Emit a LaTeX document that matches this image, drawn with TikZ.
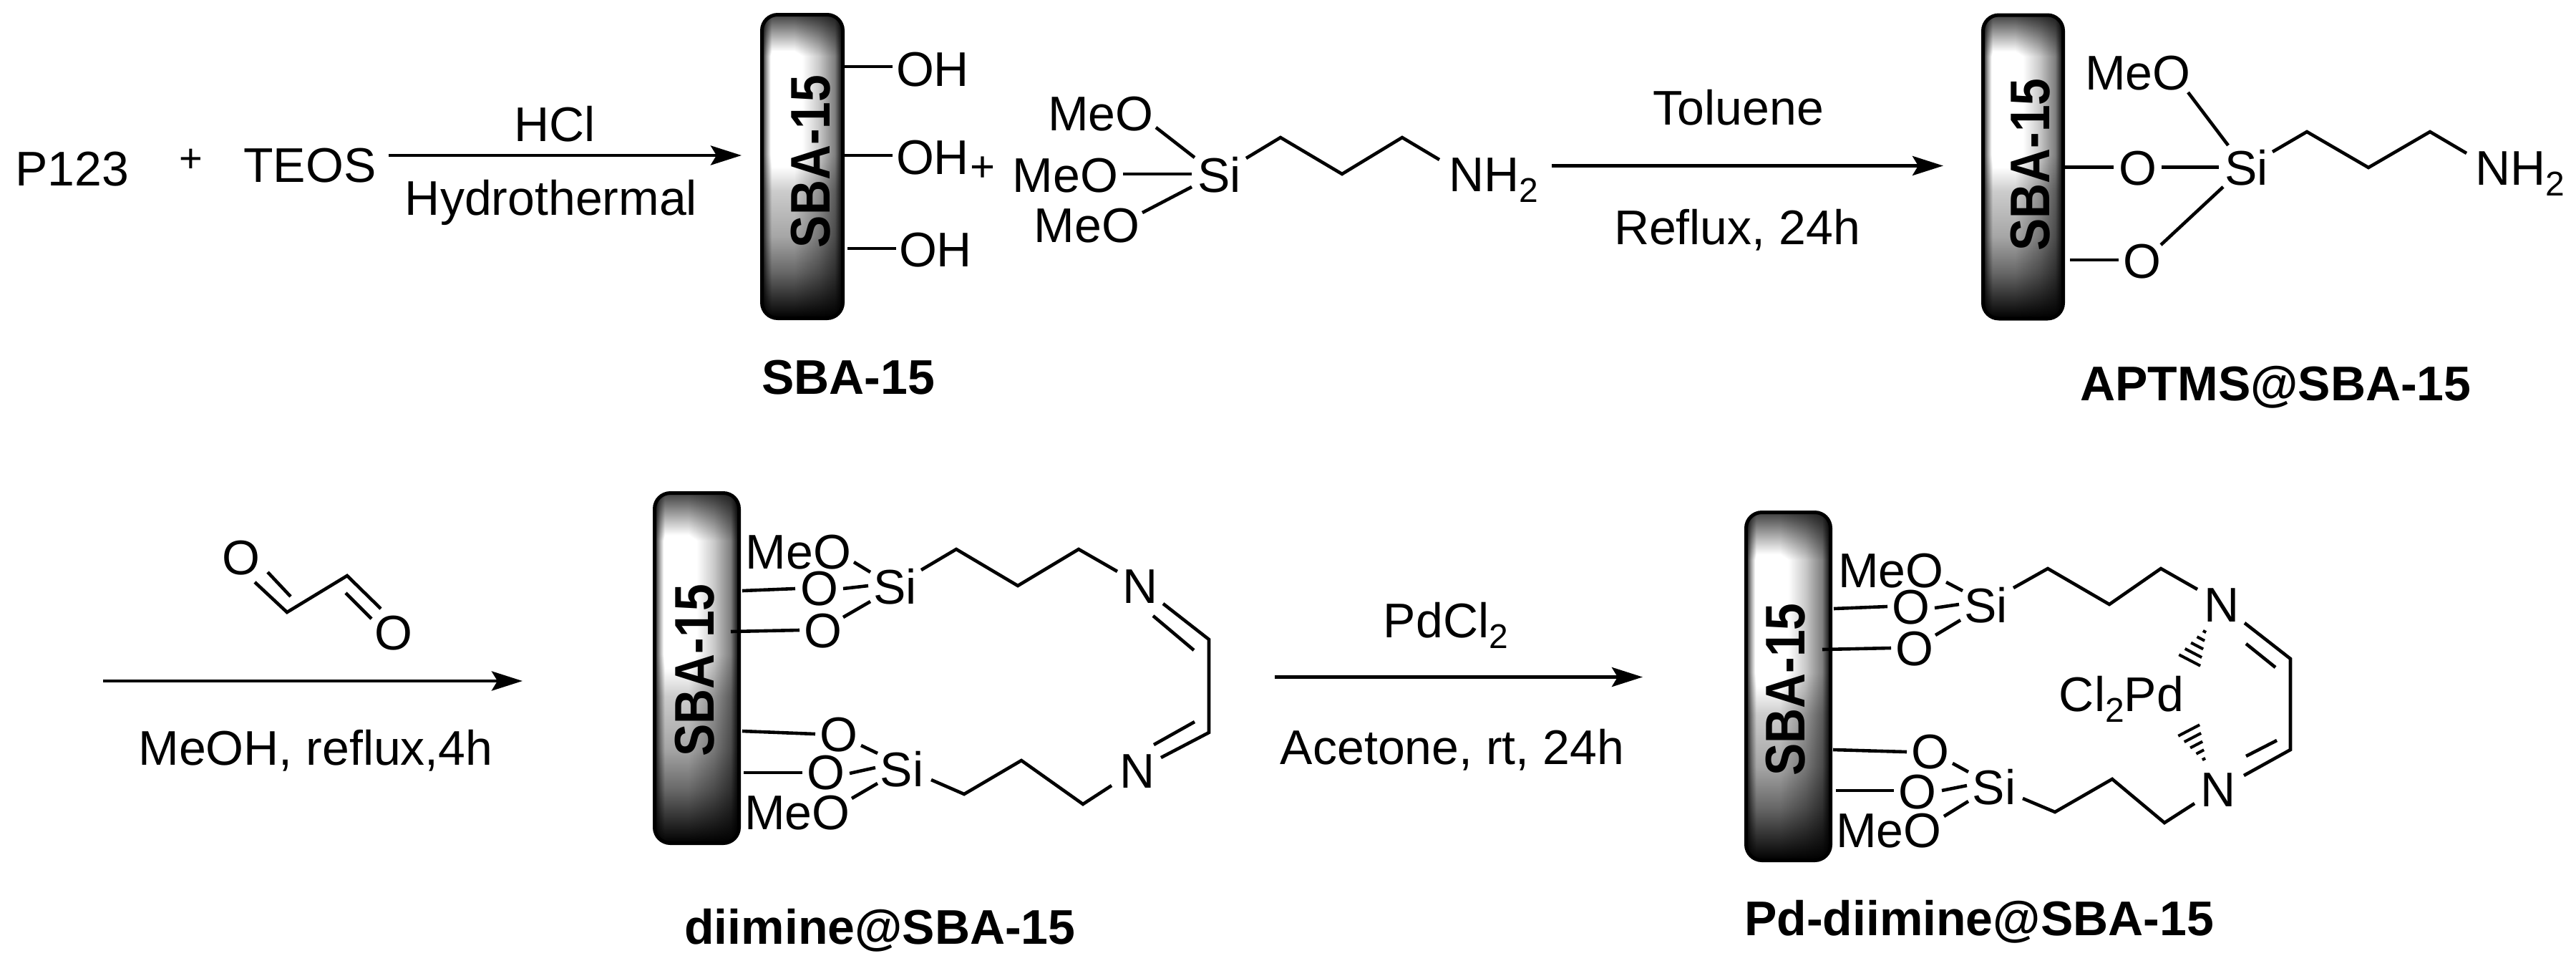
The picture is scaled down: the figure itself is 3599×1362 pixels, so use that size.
\documentclass[tikz,border=0pt]{standalone}
\usepackage{fontspec}
\setmainfont{Liberation Sans}
\usetikzlibrary{arrows.meta,calc}
\pgfdeclarefunctionalshading{barshade}{\pgfpointorigin}{\pgfpoint{100bp}{100bp}}{}{
  25 sub 50 div exch 25 sub 50 div exch
  1 exch sub
  dup 0.136 lt { 6.25 mul 0.25 add } { dup 0.46 lt { pop 1.1 } { dup 0.58 lt { 0.46 sub 2.5 mul neg 1.1 add } { dup 0.73 lt { 0.58 sub neg 0.8 add } { dup 0.85 lt { 0.73 sub 2.083 mul neg 0.65 add } { 1 exch sub 2.667 mul } ifelse } ifelse } ifelse } ifelse } ifelse
  exch
  dup 0.06 lt { 8.33 mul 0.1 add } { dup 0.12 lt { 0.06 sub 6.67 mul 0.6 add } { dup 0.4 lt { pop 1 } { dup 0.7 lt { 0.4 sub 0.933 mul neg 1 add } { dup 0.9 lt { 0.7 sub 1.35 mul neg 0.72 add } { 1 exch sub 4.5 mul } ifelse } ifelse } ifelse } ifelse } ifelse
  mul
  dup dup
}
\newcommand{\sbt}[1]{\raisebox{-7.5pt}{\fontsize{24}{24}\selectfont #1}}
\newcommand{\bd}[1]{\draw[bond] #1;}
\tikzset{
  x=0.5pt,y=-0.5pt,
  every node/.style={inner sep=0pt,outer sep=0pt},
  txt/.style={anchor=base,font=\fontsize{34}{40}\selectfont},
  blab/.style={anchor=base,font=\fontsize{34}{40}\selectfont\bfseries},
  plus/.style={anchor=center,font=\fontsize{28}{30}\selectfont},
  barbox/.style={rectangle,rounded corners=11pt,draw=black,line width=2.5pt,shading=barshade,minimum width=#1},
  bartext/.style={rotate=90,anchor=center,font=\fontsize{39}{44}\selectfont\bfseries},
  bond/.style={line width=2.3pt,line join=miter,black},
  rxn/.style={line width=2.4pt,black,-{Stealth[length=21.5pt,width=13.5pt,inset=4pt]}},
  hash/.style={line width=2pt,black},
}
\newcommand{\hashbond}[2]{%
  \foreach \t/\h in {0/1.2,0.2/3,0.4/4.8,0.6/6.6,0.8/8.4,1/10.2}{
    \draw[hash] ($(#1)!\t!(#2)!\h pt!90:(#2)$) -- ($(#1)!\t!(#2)!\h pt!-90:(#2)$);
  }}
\begin{document}
\begin{tikzpicture}
\useasboundingbox[fill=white] (0,0) rectangle (3599,1362);

% ---------- bars
\node[barbox=56.5pt,minimum height=212pt] (bar1) at (1121,232.5) {};
\node[barbox=56pt,minimum height=212pt] (bar2) at (2826.5,233) {};
\node[barbox=59pt,minimum height=244.5pt] (bar3) at (973.5,933) {};
\node[barbox=59pt,minimum height=243pt] (bar4) at (2498.5,958.5) {};
\node[bartext] (bt1) at (1132.5,225.5) {\scalebox{.87}[1]{SBA-15}};
\node[bartext] (bt2) at (2837,230) {\scalebox{.87}[1]{SBA-15}};
\node[bartext] (bt3) at (970.5,936) {\scalebox{.87}[1]{SBA-15}};
\node[bartext] (bt4) at (2495,963) {\scalebox{.87}[1]{SBA-15}};

% ---------- top row, left
\node[txt] (p123) at (100.5,259.5) {P123};
\node[plus] (plusa) at (267,224) {+};
\node[txt] (teos) at (433,254) {TEOS};
\node[txt] (hcl) at (775,197.5) {HCl};
\node[txt] (hydro) at (770,300) {Hydrothermal};
\coordinate (ar1s) at (543,217);
\coordinate (ar1e) at (1036,217);
\draw[rxn] (ar1s) -- (ar1e);

\node[txt] (oh1) at (1303,120) {OH};
\node[txt] (oh2) at (1303,243) {OH};
\node[txt] (oh3) at (1307,372) {OH};
\coordinate (oh1a) at (1179,93);  \coordinate (oh1b) at (1247,93);
\coordinate (oh2a) at (1179,217); \coordinate (oh2b) at (1247,217);
\coordinate (oh3a) at (1184,347); \coordinate (oh3b) at (1252,347);
\bd{(oh1a) -- (oh1b)}
\bd{(oh2a) -- (oh2b)}
\bd{(oh3a) -- (oh3b)}
\node[blab] (lab1) at (1185,550) {SBA-15};
\node[plus,font=\fontsize{30}{30}\selectfont] (plusb) at (1373,236) {+};

% ---------- silane reagent
\node[txt] (ameo1) at (1538,182) {MeO};
\node[txt] (ameo2) at (1488.5,268) {MeO};
\node[txt] (ameo3) at (1518.5,338) {MeO};
\node[txt] (asi) at (1703.5,268) {Si};
\node[txt] (anh) at (2086.5,267) {NH\sbt{2}};
\coordinate (a1a) at (1615,178); \coordinate (a1b) at (1669,220);
\coordinate (a2a) at (1569,243); \coordinate (a2b) at (1665,243);
\coordinate (a3a) at (1596,297); \coordinate (a3b) at (1665,261);
\bd{(a1a) -- (a1b)}
\bd{(a2a) -- (a2b)}
\bd{(a3a) -- (a3b)}
\coordinate (ac0) at (1741,221); \coordinate (ac1) at (1789,192);
\coordinate (ac2) at (1875,243); \coordinate (ac3) at (1959,192);
\coordinate (ac4) at (2011,223);
\bd{(ac0) -- (ac1) -- (ac2) -- (ac3) -- (ac4)}

\node[txt] (tol) at (2429,174.5) {Toluene};
\node[txt] (refl) at (2427,341) {Reflux, 24h};
\coordinate (ar2s) at (2168,231.5);
\coordinate (ar2e) at (2715,231.5);
\draw[rxn] (ar2s) -- (ar2e);

% ---------- APTMS@SBA-15
\node[txt] (bmeo) at (2987,125) {MeO};
\node[txt] (bo1) at (2987,258) {O};
\node[txt] (bo2) at (2993,388) {O};
\node[txt] (bsi) at (3138.5,258) {Si};
\node[txt] (bnh) at (3521,258) {NH\sbt{2}};
\coordinate (b1a) at (3057,129);   \coordinate (b1b) at (3113,203);
\coordinate (b2a) at (2885,233.5); \coordinate (b2b) at (2953,233.5);
\coordinate (b3a) at (3020,233.5); \coordinate (b3b) at (3100,233.5);
\coordinate (b4a) at (3106,261);   \coordinate (b4b) at (3019,342);
\coordinate (b5a) at (2892,363);   \coordinate (b5b) at (2960,363);
\bd{(b1a) -- (b1b)}
\bd{(b2a) -- (b2b)}
\bd{(b3a) -- (b3b)}
\bd{(b4a) -- (b4b)}
\bd{(b5a) -- (b5b)}
\coordinate (bc0) at (3175,212); \coordinate (bc1) at (3223,184);
\coordinate (bc2) at (3309,234); \coordinate (bc3) at (3395,184);
\coordinate (bc4) at (3446,214);
\bd{(bc0) -- (bc1) -- (bc2) -- (bc3) -- (bc4)}
\node[blab] (lab2) at (3179.5,559.5) {APTMS@SBA-15};

% ---------- glyoxal and arrow 3
\node[txt] (go1) at (337,802) {O};
\node[txt] (go2) at (550,907) {O};
\coordinate (g1) at (356,813); \coordinate (g2) at (401,855);
\coordinate (g3) at (374,799); \coordinate (g4) at (406,833);
\coordinate (g5) at (485,804); \coordinate (g6) at (532,850);
\coordinate (g7) at (483,828); \coordinate (g8) at (519,864);
\bd{(g1) -- (g2) -- (g5) -- (g6)}
\bd{(g3) -- (g4)}
\bd{(g7) -- (g8)}
\coordinate (ar3s) at (144,951);
\coordinate (ar3e) at (730,951);
\draw[rxn] (ar3s) -- (ar3e);
\node[txt] (meoh) at (441,1068) {MeOH, reflux,4h};

% ---------- diimine@SBA-15
\node[txt] (cmeo1) at (1115.5,794.5) {MeO};
\node[txt] (co1) at (1145,845.5) {O};
\node[txt] (co2) at (1150,904.5) {O};
\node[txt] (csi1) at (1250.5,843) {Si};
\node[txt] (cn1) at (1593,842) {N};
\node[txt] (cn2) at (1589,1100) {N};
\node[txt] (csi2) at (1260,1098) {Si};
\node[txt] (co3) at (1172,1049) {O};
\node[txt] (co4) at (1154,1102) {O};
\node[txt] (cmeo2) at (1114,1158) {MeO};
\coordinate (c1a) at (1193,785);  \coordinate (c1b) at (1216,799);
\coordinate (c2a) at (1178,822);  \coordinate (c2b) at (1213,818);
\coordinate (c3a) at (1178,862);  \coordinate (c3b) at (1216,840);
\coordinate (c4a) at (1037,825);  \coordinate (c4b) at (1111,822);
\coordinate (c5a) at (1021,882);  \coordinate (c5b) at (1117,880);
\coordinate (c6a) at (1037,1021); \coordinate (c6b) at (1139,1025);
\coordinate (c7a) at (1039,1079); \coordinate (c7b) at (1121,1079);
\coordinate (c8a) at (1203,1041); \coordinate (c8b) at (1226,1052);
\coordinate (c9a) at (1187,1080); \coordinate (c9b) at (1223,1072);
\coordinate (c10a) at (1190,1115);\coordinate (c10b) at (1226,1094);
\foreach \i in {1,...,10}{\bd{(c\i a) -- (c\i b)}}
\coordinate (cu0) at (1287,796); \coordinate (cu1) at (1336,767);
\coordinate (cu2) at (1422,818); \coordinate (cu3) at (1507,767);
\coordinate (cu4) at (1561,798);
\bd{(cu0) -- (cu1) -- (cu2) -- (cu3) -- (cu4)}
\coordinate (cl0) at (1301,1089); \coordinate (cl1) at (1347,1109);
\coordinate (cl2) at (1427,1062); \coordinate (cl3) at (1513,1123);
\coordinate (cl4) at (1553,1097);
\bd{(cl0) -- (cl1) -- (cl2) -- (cl3) -- (cl4)}
\coordinate (cd1) at (1625,843);  \coordinate (cd2) at (1689,893);
\coordinate (cd3) at (1689,1023); \coordinate (cd4) at (1622,1058);
\coordinate (cd5) at (1611,860);  \coordinate (cd6) at (1668,908);
\coordinate (cd7) at (1669,1008); \coordinate (cd8) at (1612,1040);
\bd{(cd1) -- (cd2) -- (cd3) -- (cd4)}
\bd{(cd5) -- (cd6)}
\bd{(cd7) -- (cd8)}
\node[blab] (lab3) at (1229.5,1318) {diimine@SBA-15};

% ---------- arrow 4
\node[txt] (pdcl) at (2020,890) {PdCl\sbt{2}};
\node[txt] (acet) at (2029,1067) {Acetone, rt, 24h};
\coordinate (ar4s) at (1781,945.5);
\coordinate (ar4e) at (2295,945.5);
\draw[rxn] (ar4s) -- (ar4e);

% ---------- Pd-diimine@SBA-15
\node[txt] (dmeo1) at (2642,820) {MeO};
\node[txt] (do1) at (2670,871) {O};
\node[txt] (do2) at (2675,929) {O};
\node[txt] (dsi1) at (2774.5,869) {Si};
\node[txt] (dn1) at (3104,868) {N};
\node[txt] (dn2) at (3099,1126) {N};
\node[txt] (dsi2) at (2786,1123) {Si};
\node[txt] (do3) at (2697,1073) {O};
\node[txt] (do4) at (2679,1129) {O};
\node[txt] (dmeo2) at (2639,1183.5) {MeO};
\node[txt] (dpd) at (2964,993) {Cl\sbt{2}Pd};
\coordinate (d1a) at (2719,813);  \coordinate (d1b) at (2742,825);
\coordinate (d2a) at (2703,849);  \coordinate (d2b) at (2737,844);
\coordinate (d3a) at (2704,887);  \coordinate (d3b) at (2739,866);
\coordinate (d4a) at (2562,850);  \coordinate (d4b) at (2637,847);
\coordinate (d5a) at (2546,907);  \coordinate (d5b) at (2642,905);
\coordinate (d6a) at (2561,1047); \coordinate (d6b) at (2664,1050);
\coordinate (d7a) at (2565,1104); \coordinate (d7b) at (2646,1104);
\coordinate (d8a) at (2728,1066); \coordinate (d8b) at (2750,1078);
\coordinate (d9a) at (2713,1104); \coordinate (d9b) at (2748,1097);
\coordinate (d10a) at (2716,1140);\coordinate (d10b) at (2750,1119);
\foreach \i in {1,...,10}{\bd{(d\i a) -- (d\i b)}}
\coordinate (du0) at (2813,821); \coordinate (du1) at (2861,794);
\coordinate (du2) at (2947,844); \coordinate (du3) at (3019,794);
\coordinate (du4) at (3070,823);
\bd{(du0) -- (du1) -- (du2) -- (du3) -- (du4)}
\coordinate (dl0) at (2826,1115); \coordinate (dl1) at (2871,1134);
\coordinate (dl2) at (2951,1088); \coordinate (dl3) at (3024,1149);
\coordinate (dl4) at (3066,1122);
\bd{(dl0) -- (dl1) -- (dl2) -- (dl3) -- (dl4)}
\coordinate (dd1) at (3136,870);  \coordinate (dd2) at (3200,920);
\coordinate (dd3) at (3200,1047); \coordinate (dd4) at (3135,1083);
\coordinate (dd5) at (3138,899);  \coordinate (dd6) at (3179,932);
\coordinate (dd7) at (3181,1034); \coordinate (dd8) at (3138,1056);
\bd{(dd1) -- (dd2) -- (dd3) -- (dd4)}
\bd{(dd5) -- (dd6)}
\bd{(dd7) -- (dd8)}
\coordinate (dh1a) at (3080,882);  \coordinate (dh1b) at (3054,932);
\coordinate (dh2a) at (3079,1060); \coordinate (dh2b) at (3053,1010);
\hashbond{dh1a}{dh1b}
\hashbond{dh2a}{dh2b}
\node[blab] (lab4) at (2765,1306) {Pd-diimine@SBA-15};
\end{tikzpicture}
\end{document}
